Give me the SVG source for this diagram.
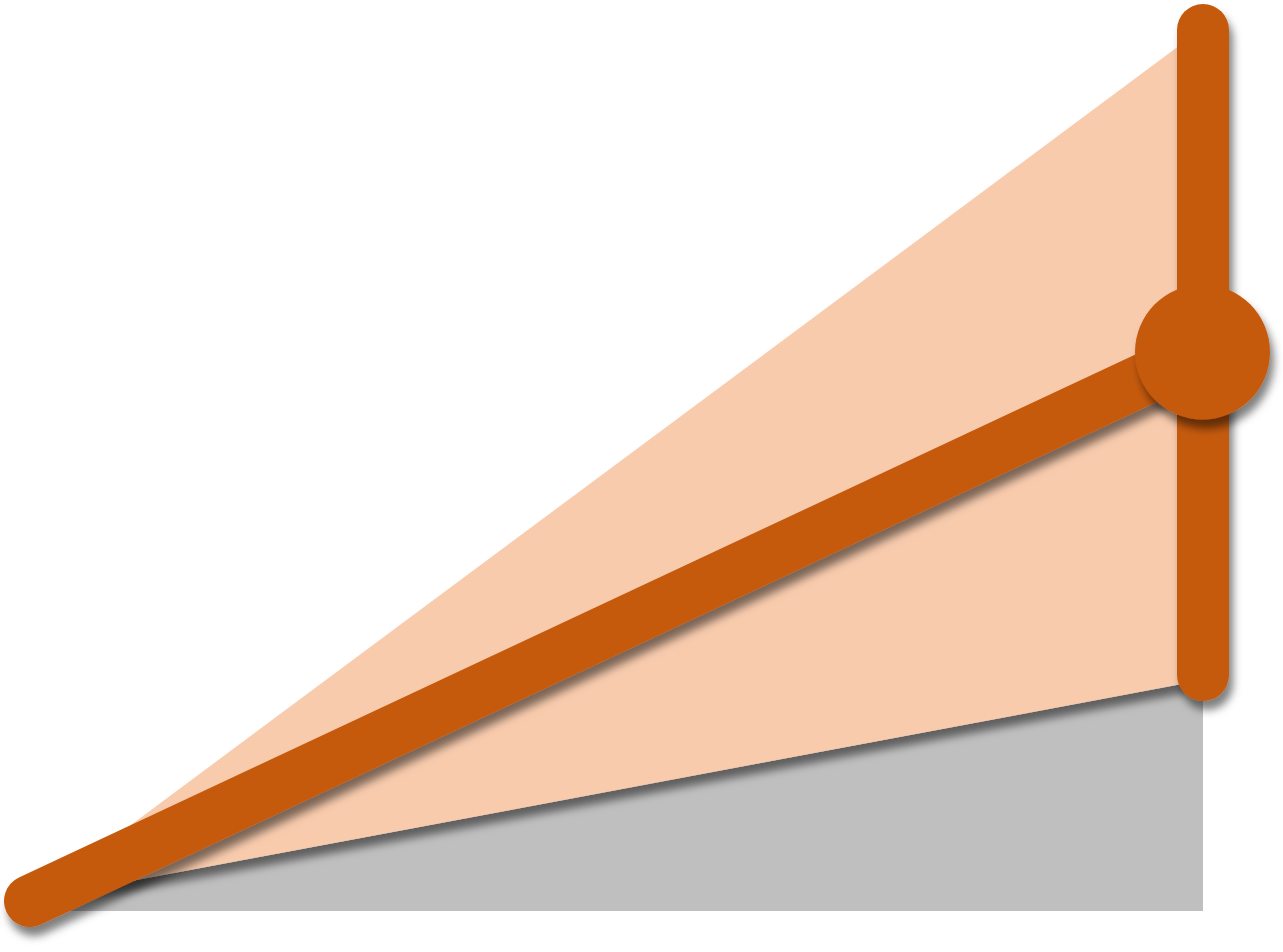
<svg xmlns="http://www.w3.org/2000/svg" width="1283" height="952" viewBox="0 0 1283 952">
<style>
.sh{filter:url(#ds)}
.ln{stroke:#C55A11;stroke-width:52;stroke-linecap:round;fill:none}
</style>
<defs>
<filter id="ds" filterUnits="userSpaceOnUse" x="-50" y="-50" width="1400" height="1100">
<feDropShadow dx="4" dy="9" stdDeviation="4.5" flood-color="#000" flood-opacity="0.5"/>
</filter>
</defs>
<g id="gray-area"><polygon points="30,900 1203,680 1203,911 30,911" fill="#BFBFBF"/></g>
<g id="fan" class="sh"><polygon points="30,900 1203,28 1203,680" fill="#F8CBAD"/></g>
<g id="connectors">
<line class="ln sh" x1="30" y1="901" x2="1202" y2="352"/>
<line class="ln sh" x1="1203" y1="30" x2="1203" y2="675"/>
</g>
<g id="pivot"><circle class="sh" cx="1202.5" cy="352" r="67.5" fill="#C55A11"/></g>
</svg>
